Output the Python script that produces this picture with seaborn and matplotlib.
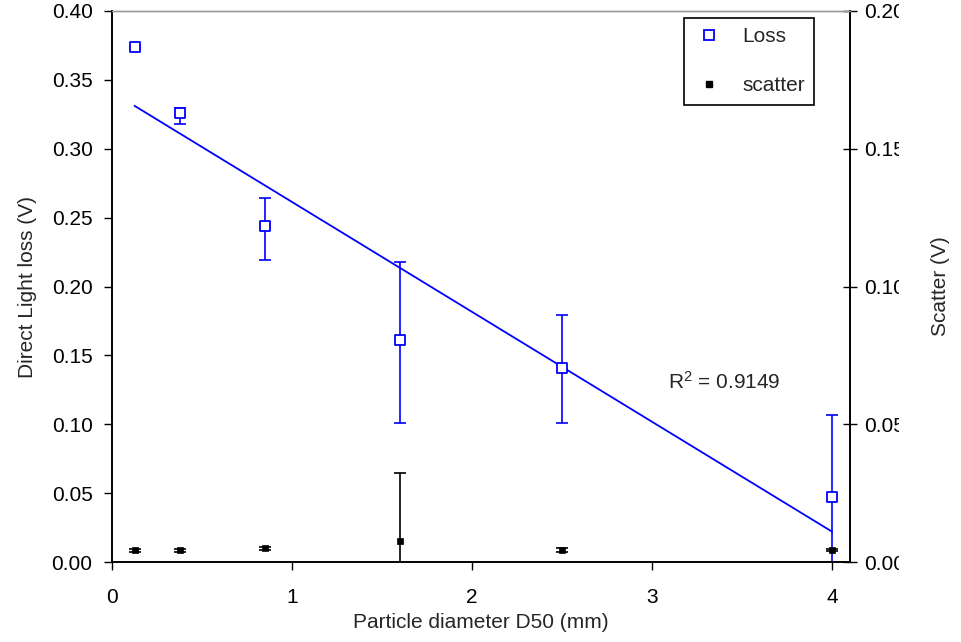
import matplotlib
matplotlib.use("Agg")
import matplotlib.pyplot as plt
import seaborn as sns
import numpy as np
import pandas as pd
from matplotlib.transforms import Bbox
from matplotlib.lines import Line2D

# ---- data ----
diameter = [0.125, 0.375, 0.85, 1.6, 2.5, 4.0]
loss = [0.374, 0.326, 0.244, 0.161, 0.141, 0.047]
loss_err_low = [0.0015, 0.008, 0.0245, 0.060, 0.040, 0.053]
loss_err_high = [0.0, 0.0034, 0.0205, 0.057, 0.038, 0.060]
scatter = [0.0043, 0.0043, 0.0050, 0.0076, 0.0043, 0.0044]
scatter_err = [0.0005, 0.0005, 0.0005, 0.0246, 0.0008, 0.0005]
left_ticks = [0.00, 0.05, 0.10, 0.15, 0.20, 0.25, 0.30, 0.35, 0.40]
right_ticks = [0.00, 0.05, 0.10, 0.15, 0.20]
x_ticks = [0, 1, 2, 3, 4]
r2_label = "R$^2$ = 0.9149"

df = pd.DataFrame({"diameter": diameter, "loss": loss, "scatter": scatter})

sns.set_theme(style="ticks")
plt.rcParams["font.family"] = ["Liberation Sans", "DejaVu Sans"]
plt.rcParams["mathtext.fontset"] = "custom"
plt.rcParams["mathtext.rm"] = "Liberation Sans"
plt.rcParams["mathtext.it"] = "Liberation Sans"

fig = plt.figure(figsize=(9.61, 6.42), dpi=100)
ax = fig.add_axes([112 / 961, 80 / 642, 738 / 961, 551 / 642])
ax2 = ax.twinx()

blue = "#0000FF"
fs = 15

# Loss series (left axis)
ax.errorbar(df["diameter"], df["loss"], yerr=[loss_err_low, loss_err_high],
            fmt="none", ecolor=blue, elinewidth=1.2, capsize=4.5, capthick=1.2,
            zorder=3)
sns.scatterplot(data=df, x="diameter", y="loss", ax=ax, marker="s", s=60,
                facecolor="white", edgecolor=blue, linewidth=1.3, zorder=4,
                legend=False)
sns.regplot(data=df, x="diameter", y="loss", ax=ax, scatter=False, ci=None,
            truncate=True, line_kws={"color": blue, "linewidth": 1.3})

# Scatter series (right axis)
ax2.errorbar(df["diameter"], df["scatter"], yerr=scatter_err, fmt="none",
             ecolor="black", elinewidth=1.2, capsize=4.5, capthick=1.2, zorder=3)
sns.scatterplot(data=df, x="diameter", y="scatter", ax=ax2, marker="s", s=22,
                color="black", edgecolor="black", linewidth=0.5, zorder=4,
                legend=False)

ax.set_xlim(0, 4.1)
ax.set_ylim(0, 0.40)
ax2.set_ylim(0, 0.20)
ax.set_xticks(x_ticks)
ax.set_xticklabels([str(t) for t in x_ticks])
ax.set_yticks(left_ticks)
ax.set_yticklabels([f"{t:.2f}" for t in left_ticks])
ax2.set_yticks(right_ticks)
ax2.set_yticklabels([f"{t:.2f}" for t in right_ticks])

ax.set_xlabel("Particle diameter D50 (mm)", fontsize=fs)
ax.set_ylabel("Direct Light loss (V)", fontsize=fs)
ax2.set_ylabel("Scatter (V)", fontsize=fs)
ax.xaxis.set_label_coords(0.5, -0.093)
ax.yaxis.set_label_coords(-0.102, 0.5)
ax2.yaxis.set_label_coords(1.110, 0.5)

ax.tick_params(axis="both", direction="out", length=6, width=1,
               labelsize=fs, colors="black")
ax.tick_params(axis="y", pad=8)
ax.tick_params(axis="x", pad=13)
ax2.tick_params(axis="y", direction="inout", length=10, width=1,
                labelsize=fs, colors="black", pad=5)

for a in (ax, ax2):
    for side in ("left", "bottom", "right"):
        a.spines[side].set_color("black")
        a.spines[side].set_linewidth(1.2)
    a.spines["top"].set_color("#999999")
    a.spines["top"].set_linewidth(1.0)
    a.spines["top"].set_visible(True)
    a.spines["right"].set_visible(True)

ax.text(3.09, 0.131, r2_label, fontsize=fs, ha="left", va="center")

handles = [
    Line2D([], [], linestyle="none", marker="s", markersize=7,
           markerfacecolor="white", markeredgecolor=blue, markeredgewidth=1.3),
    Line2D([], [], linestyle="none", marker="s", markersize=4.5,
           markerfacecolor="black", markeredgecolor="black"),
]
leg = ax2.legend(handles, ["Loss", "scatter"], loc="upper left",
                 bbox_to_anchor=(684 / 961, 1 - 18 / 642),
                 bbox_transform=fig.transFigure, fontsize=fs, frameon=True,
                 fancybox=False, edgecolor="black", framealpha=1,
                 labelspacing=1.44, handletextpad=0.85, borderpad=0.45,
                 handlelength=1.5, borderaxespad=0)
leg.get_frame().set_linewidth(1.2)

# clip right tick labels like the reference
fig.canvas.draw()
clip = Bbox([[0, 0], [899, 642]])
for tick in ax2.yaxis.get_major_ticks():
    for lab in (tick.label1, tick.label2):
        lab.set_clip_box(clip)
        lab.set_clip_on(True)

fig.savefig("out.png", dpi=100)
